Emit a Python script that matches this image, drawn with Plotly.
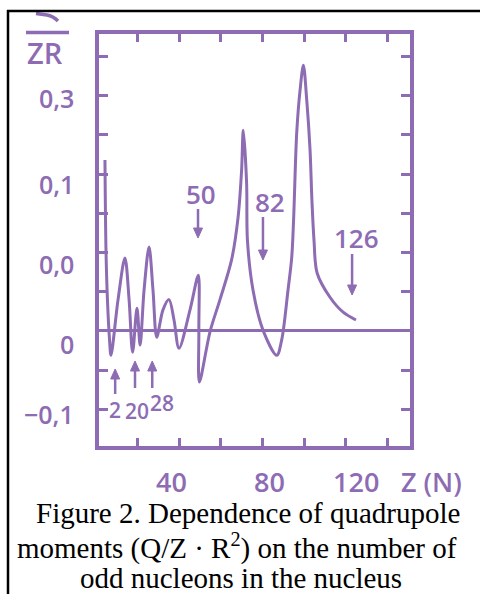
import plotly.graph_objects as go

# Reduced quadrupole moment Q/(Z R^2) against the number of odd nucleons
z_odd = [4.3, 4.8, 5.5, 6.5, 7.2, 10.6, 13.9, 15.9, 17.6, 19.7, 21.2, 23.1,
         25.5, 27.4, 29.2, 32.2, 35.1, 37.5, 39.9, 45.2, 49.2, 49.45, 49.7,
         54.8, 59.6, 65.2, 68.3, 70.0, 70.8, 72.4, 72.8, 75.5, 80.3, 86.9,
         89.3, 92.3, 94.1, 95.0, 96.5, 98.1, 99.7, 101.3, 102.9, 103.8,
         104.8, 106.3, 112.5, 118.8, 125.0]
q_reduced = [0.218, 0.103, 0.040, -0.011, -0.031, 0.040, 0.093, 0.040, -0.027,
             0.029, -0.018, 0.052, 0.107, 0.052, -0.008, 0.027, 0.040, 0.014,
             -0.022, 0.027, 0.071, 0.001, -0.065, -0.001, 0.040, 0.091, 0.145,
             0.205, 0.256, 0.189, 0.116, 0.052, 0.001, -0.031, -0.011, 0.052,
             0.094, 0.142, 0.253, 0.307, 0.339, 0.295, 0.231, 0.167, 0.116,
             0.074, 0.043, 0.024, 0.014]

# Magic numbers marked with arrows
magic_up = [2, 20, 28]
magic_down = [50, 82, 126]

# Axis ticks and labels
x_ticks = [20, 40, 60, 80, 100, 120, 140]
x_labels = [40, 80, 120]
y_ticks = [-0.10, -0.05, 0.05, 0.10, 0.15, 0.20, 0.25, 0.30, 0.35]
y_label_text = ["0,3", "0,1", "0,0", "0", "\u22120,1"]

caption_lines = [
    "Figure 2. Dependence of quadrupole",
    "moments (Q/Z \u00b7 R<sup>2</sup>) on the number of",
    "odd nucleons in the nucleus",
]

PURPLE = "#8d6cb3"
W, H = 480, 594
L, R, T, B = 99, 410, 34, 446   # plot area in pixels
X0, X1 = 1.44, 150.96           # x-axis range
PX_PER_Z = (R - L) / (X1 - X0)


def paper_x(px):
    return (px - L) / (R - L)


def paper_y(py):
    return (B - py) / (B - T)


def z_to_px(z):
    return L + (z - X0) * PX_PER_Z


fig = go.Figure()
fig.add_trace(go.Scatter(
    x=z_odd, y=q_reduced, mode="lines",
    line=dict(color=PURPLE, width=3, shape="spline", smoothing=0.9),
    hoverinfo="skip", showlegend=False,
))

fig.update_layout(
    width=W, height=H,
    margin=dict(l=L, r=W - R, t=T, b=H - B),
    paper_bgcolor="white", plot_bgcolor="white",
    showlegend=False,
)
fig.update_xaxes(
    range=[X0, X1], tickvals=x_ticks, showticklabels=False,
    ticks="inside", ticklen=8, tickwidth=3, tickcolor=PURPLE,
    showline=True, linewidth=4, linecolor=PURPLE, mirror="ticks",
    showgrid=False, zeroline=False,
)
fig.update_yaxes(
    range=[-0.1467, 0.3788], tickvals=y_ticks, showticklabels=False,
    ticks="inside", ticklen=9, tickwidth=3, tickcolor=PURPLE,
    showline=True, linewidth=4, linecolor=PURPLE, mirror="ticks",
    showgrid=False, zeroline=True, zerolinecolor=PURPLE, zerolinewidth=3,
)

label_font = dict(family="Open Sans", color=PURPLE, weight=600)

# y tick labels
y_label_px = [98, 183.5, 263.5, 344, 413.5]
for txt, py in zip(y_label_text, y_label_px):
    fig.add_annotation(text=txt, xref="paper", yref="paper",
                       x=paper_x(76), y=paper_y(py), xanchor="right",
                       yanchor="middle", showarrow=False,
                       font=dict(size=25, **label_font))

# x tick labels
x_label_shift = [-8, 7, 10]
for val, dx in zip(x_labels, x_label_shift):
    fig.add_annotation(text=str(val), xref="x", yref="paper", x=val,
                       xshift=dx, y=paper_y(481), xanchor="center",
                       yanchor="middle", showarrow=False,
                       font=dict(size=27, **label_font))
fig.add_annotation(text="Z (N)", xref="paper", yref="paper", x=paper_x(431),
                   y=paper_y(481), xanchor="center", yanchor="middle",
                   showarrow=False, font=dict(size=27, **label_font))

# y axis title: fraction Q / ZR
fig.add_annotation(text="ZR", xref="paper", yref="paper", x=paper_x(44.5),
                   y=paper_y(53), xanchor="center", yanchor="middle",
                   showarrow=False, font=dict(size=29, **label_font))
fig.add_shape(type="line", xref="paper", yref="paper",
              x0=paper_x(26), x1=paper_x(69), y0=paper_y(32.5), y1=paper_y(32.5),
              line=dict(color=PURPLE, width=3.5))
q_tail = "M {} {} L {} {} Q {} {} {} {}".format(
    paper_x(36), paper_y(13.5), paper_x(47), paper_y(15),
    paper_x(53), paper_y(16), paper_x(58), paper_y(21))
fig.add_shape(type="path", xref="paper", yref="paper", path=q_tail,
              line=dict(color=PURPLE, width=3.5))


def add_arrow(px, head_py, tail_py):
    """Vertical arrow with a filled triangular head."""
    direction = 1 if tail_py < head_py else -1   # 1: pointing down
    base_py = head_py - direction * 10
    fig.add_shape(type="line", xref="paper", yref="paper",
                  x0=paper_x(px), x1=paper_x(px),
                  y0=paper_y(tail_py), y1=paper_y(base_py),
                  line=dict(color=PURPLE, width=2.5))
    tri = "M {} {} L {} {} L {} {} Z".format(
        paper_x(px - 4.5), paper_y(base_py), paper_x(px + 4.5), paper_y(base_py),
        paper_x(px), paper_y(head_py))
    fig.add_shape(type="path", xref="paper", yref="paper", path=tri,
                  fillcolor=PURPLE, line=dict(color=PURPLE, width=1))


# arrows above the curve, pointing down at the magic numbers
down_style = [  # arrow xshift, head py, tail py, label xshift, label py
    (-2, 238, 209, 1, 194),
    (-3.6, 260, 217, 3.4, 202),
    (-6, 295, 254, -2, 238),
]
for m, (dx, head, tail, ldx, lab) in zip(magic_down, down_style):
    add_arrow(z_to_px(m) + dx, head, tail)
    fig.add_annotation(text=str(m), xref="x", yref="paper", x=m, xshift=ldx,
                       y=paper_y(lab), xanchor="center", yanchor="middle",
                       showarrow=False, font=dict(size=26, **label_font))

# arrows below the zero line, pointing up at the magic numbers
up_style = [  # arrow xshift, head py, tail py, label xshift, label py
    (15, 369, 394, 15, 410),
    (-2.6, 361, 388, -0.6, 411),
    (-2, 361, 388, 8, 403),
]
for m, (dx, head, tail, ldx, lab) in zip(magic_up, up_style):
    add_arrow(z_to_px(m) + dx, head, tail)
    fig.add_annotation(text=str(m), xref="x", yref="paper", x=m, xshift=ldx,
                       y=paper_y(lab), xanchor="center", yanchor="middle",
                       showarrow=False, font=dict(size=21, **label_font))

# caption below the chart
caption_pos = [(247.5, 513), (237, 546), (240.5, 577.5)]
for line, (cx, cy) in zip(caption_lines, caption_pos):
    fig.add_annotation(text=line, xref="paper", yref="paper",
                       x=paper_x(cx), y=paper_y(cy), xanchor="center",
                       yanchor="middle", showarrow=False,
                       font=dict(family="Liberation Serif", size=29,
                                 color="black"))

# frame lines along the top and left edges
fig.add_shape(type="line", xref="paper", yref="paper",
              x0=paper_x(7), x1=paper_x(481), y0=paper_y(11), y1=paper_y(11),
              line=dict(color="black", width=2.5))
fig.add_shape(type="line", xref="paper", yref="paper",
              x0=paper_x(8), x1=paper_x(8), y0=paper_y(10), y1=paper_y(600),
              line=dict(color="black", width=2.5))

fig.write_html("out.html")
